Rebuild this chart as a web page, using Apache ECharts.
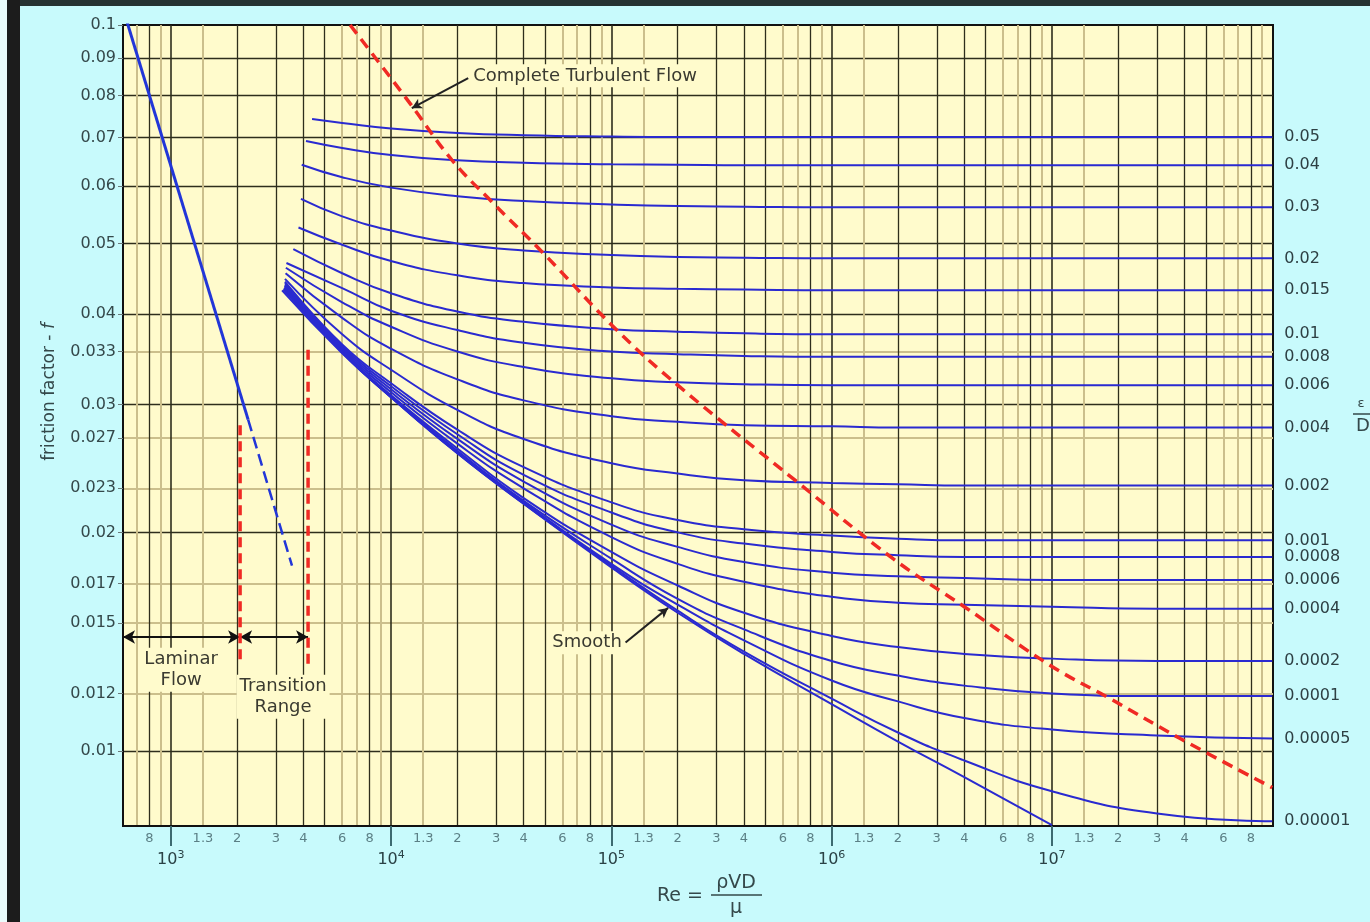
<!DOCTYPE html>
<html><head><meta charset="utf-8">
<script src="https://cdn.jsdelivr.net/npm/echarts@6/dist/echarts.min.js"></script>
<style>html,body{margin:0;padding:0;background:#c8fafc;}#c{width:1370px;height:922px;}</style>
</head><body><div id="c"></div>
<script>
// ---------- data ----------
const roughLabels = ['0.05','0.04','0.03','0.02','0.015','0.01','0.008','0.006','0.004','0.002','0.001','0.0008','0.0006','0.0004','0.0002','0.0001','0.00005','0.00001','smooth'];
const reGrid = [6e3,1e4,2e4,4e4,1e5,2e5,4e5,1e6,2e6,4e6,1e7,3e7,1e8];
const startRe = [4380,4110,3930,3900,3800,3600,3350,3330,3320,3300,3300,3300,3300,3290,3280,3270,3260,3250,3200];
const startF  = [0.0742,0.0692,0.0642,0.0576,0.0526,0.0491,0.0470,0.0463,0.0455,0.0447,0.0443,0.0441,0.0439,0.0437,0.0435,0.0434,0.0433,0.0432,0.0431];
const fE05    = [0.0733,0.0720,0.0710,0.0705,0.0702,0.0701,0.0701,0.0701,0.0701,0.0701,0.0701,0.0701,0.0701];
const fE04    = [0.0677,0.0662,0.0651,0.0646,0.0643,0.0642,0.0641,0.0641,0.0641,0.0641,0.0641,0.0641,0.0641];
const fE03    = [0.0617,0.0597,0.0581,0.0572,0.0566,0.0563,0.0562,0.0561,0.0561,0.0561,0.0561,0.0561,0.0561];
const fE02    = [0.0545,0.0521,0.0500,0.0489,0.0482,0.0479,0.0478,0.0477,0.0477,0.0477,0.0477,0.0477,0.0477];
const fE015   = [0.0498,0.0473,0.0452,0.0441,0.0435,0.0433,0.0432,0.0431,0.0431,0.0431,0.0431,0.0431,0.0431];
const fE01    = [0.0455,0.0427,0.0403,0.0390,0.0381,0.0378,0.0376,0.0375,0.0375,0.0375,0.0375,0.0375,0.0375];
const fE008   = [0.0434,0.0404,0.0380,0.0365,0.0355,0.0352,0.0350,0.0349,0.0349,0.0349,0.0349,0.0349,0.0349];
const fE006   = [0.0415,0.0384,0.0355,0.0338,0.0326,0.0322,0.0320,0.0319,0.0319,0.0319,0.0319,0.0319,0.0319];
const fE004   = [0.0395,0.0358,0.0325,0.0304,0.0289,0.0284,0.0281,0.0280,0.0279,0.0279,0.0279,0.0279,0.0279];
const fE002   = [0.0375,0.0335,0.0295,0.0269,0.0249,0.0241,0.0236,0.0234,0.0233,0.0232,0.0232,0.0232,0.0232];
const fE001   = [0.0363,0.0321,0.0277,0.0246,0.0220,0.0208,0.0202,0.0198,0.0196,0.0195,0.0195,0.0195,0.0195];
const fE0008  = [0.0361,0.0318,0.0273,0.0240,0.0213,0.0200,0.0193,0.0188,0.0186,0.0185,0.0185,0.0185,0.0185];
const fE0006  = [0.0359,0.0315,0.0269,0.0235,0.0205,0.0191,0.0182,0.0176,0.0174,0.0173,0.0172,0.0172,0.0172];
const fE0004  = [0.0357,0.0312,0.0265,0.0230,0.0197,0.0181,0.0171,0.0163,0.0160,0.0159,0.0158,0.0157,0.0157];
const fE0002  = [0.0355,0.0309,0.0261,0.0223,0.0188,0.0169,0.0155,0.0144,0.0139,0.0136,0.0134,0.0133,0.0133];
const fE0001  = [0.0354,0.0308,0.0259,0.0221,0.0184,0.0162,0.0147,0.0133,0.0127,0.0123,0.0120,0.0119,0.0119];
const fE00005 = [0.0354,0.0307,0.0258,0.0220,0.0181,0.0159,0.0142,0.0125,0.0117,0.0111,0.0107,0.0105,0.0104];
const fE00001 = [0.0354,0.0307,0.0257,0.0219,0.0180,0.0156,0.0137,0.0118,0.0106,0.0097,0.0088,0.0082,0.0080];
const fSmooth = [0.0353,0.0307,0.0257,0.0219,0.0179,0.0155,0.0136,0.0116,0.0103,0.0092,0.0079];

const ctRe = [6520,12190,18860,28640,49100,105800,205000,682000,1.9e6,4.0e6,1.0e7,1.84e7,3.82e7,1.0e8];
const ctF  = [0.100,0.0780,0.0652,0.0571,0.0485,0.0380,0.0317,0.0236,0.0184,0.0158,0.01307,0.0118,0.0104,0.0089];

const lamRe = [633,2245,3550];
const lamF  = [0.101,0.0286,0.0180];

const transRe = [2064,4200];
const transTop = [0.0281,0.0357];
const transBottom = [0.01327,0.01294];
const arrowRe = [607,2064,4200];
const arrowF = 0.01435;

const annoText = ['Laminar\nFlow','Transition\nRange','Complete Turbulent Flow','Smooth'];
const annoRe = [1114,3235,76000,77600];
const annoF  = [0.01294,0.01187,0.0851,0.01409];
const pointerFromRe = [22400,116000];
const pointerFromF  = [0.0845,0.0141];
const pointerToRe   = [12420,181000];
const pointerToF    = [0.0768,0.01574];

const yTickVals = [0.1,0.09,0.08,0.07,0.06,0.05,0.04,0.0355,0.03,0.027,0.023,0.02,0.017,0.015,0.012,0.01];
const yTickText = ['0.1','0.09','0.08','0.07','0.06','0.05','0.04','0.033','0.03','0.027','0.023','0.02','0.017','0.015','0.012','0.01'];
const yDark  = [0.09,0.08,0.07,0.06,0.05,0.04,0.03,0.02,0.01];
const yLight = [0.0355,0.027,0.023,0.017,0.015,0.012];

const xDecades = [3,4,5,6,7];
const xMant = [1.4,2,3,4,6,8];
const xMantText = ['1.3','2','3','4','6','8'];
const xGridDark = [2,3,4,5,8];
const xGridLight = [1.4,6,7,9];

// ---------- build ----------
const L = Math.log10;
const xMin = L(607), xMax = L(1.008e8), yMin = L(0.00788), yMax = -1;
const fLists = [fE05,fE04,fE03,fE02,fE015,fE01,fE008,fE006,fE004,fE002,fE001,fE0008,fE0006,fE0004,fE0002,fE0001,fE00005,fE00001,fSmooth];

const xLabVals = [800], xLabTxt = ['8'];
xDecades.forEach(d => xMant.forEach((m,i) => { xLabVals.push(m*Math.pow(10,d)); xLabTxt.push(xMantText[i]); }));
const decVals = xDecades.map(d => Math.pow(10,d));
const xDarkVals = [], xLightVals = [];
for (let d = 2; d <= 7; d++) {
  xGridDark.forEach(m => { const v = m*Math.pow(10,d); if (v > 607 && v < 1e8) xDarkVals.push(v); });
  xGridLight.forEach(m => { const v = m*Math.pow(10,d); if (v > 607 && v < 1e8) xLightVals.push(v); });
}
function lookup(vals, txt, v){ for (let i=0;i<vals.length;i++){ if (Math.abs(L(vals[i])-v)<1e-6) return txt[i]; } return ''; }

const FONT = 'DejaVu Sans';
const DARK = '#2e2e1c', LIGHT = '#cbbf8c';
function gx(extra){ return Object.assign({type:'value',min:xMin,max:xMax,position:'bottom',gridIndex:0,
  axisLine:{show:false,onZero:false},axisTick:{show:false},axisLabel:{show:false},splitLine:{show:false}}, extra); }
function gy(extra){ return Object.assign({type:'value',min:yMin,max:yMax,position:'left',gridIndex:0,
  axisLine:{show:false,onZero:false},axisTick:{show:false},axisLabel:{show:false},splitLine:{show:false}}, extra); }

const xAxis = [
  gx({axisLine:{show:true,onZero:false,lineStyle:{color:'#111',width:2}},
      axisTick:{show:false,customValues:xLabVals.map(L)},
      axisLabel:{show:true,customValues:xLabVals.map(L),margin:6,fontSize:13,color:'#5b7f85',fontFamily:FONT,
        formatter:v=>lookup(xLabVals,xLabTxt,v)}}),
  gx({axisTick:{show:true,customValues:decVals.map(L),length:20,lineStyle:{color:'#3c6a70',width:2}},
      axisLabel:{show:true,customValues:decVals.map(L),margin:24,color:'#2a4246',fontFamily:FONT,
        formatter:v=>'{b|10}{s|'+Math.round(v)+'}',
        rich:{b:{fontSize:16,lineHeight:20,fontFamily:FONT,color:'#2a4246'},
              s:{fontSize:11,lineHeight:12,verticalAlign:'top',fontFamily:FONT,color:'#2a4246'}}},
      splitLine:{show:true,lineStyle:{color:DARK,width:1.6}}}),
  gx({axisTick:{show:false,customValues:xDarkVals.map(L)},splitLine:{show:true,lineStyle:{color:DARK,width:1.3}}}),
  gx({axisTick:{show:false,customValues:xLightVals.map(L)},splitLine:{show:true,lineStyle:{color:LIGHT,width:2}}})
];
const yAxis = [
  gy({axisLine:{show:true,onZero:false,lineStyle:{color:'#111',width:2}},
      axisTick:{show:true,customValues:yTickVals.map(L),length:5,lineStyle:{color:'#6a7a7a',width:1}},
      axisLabel:{show:true,customValues:yTickVals.map(L),margin:7,fontSize:16,color:'#34484a',fontFamily:FONT,
        formatter:v=>lookup(yTickVals,yTickText,v)}}),
  gy({axisTick:{show:false,customValues:yDark.map(L)},splitLine:{show:true,lineStyle:{color:DARK,width:1.3}}}),
  gy({axisTick:{show:false,customValues:yLight.map(L)},splitLine:{show:true,lineStyle:{color:LIGHT,width:2}}})
];

const series = [];
fLists.forEach((fs, k) => {
  const d = [[L(startRe[k]), L(startF[k])]];
  fs.forEach((f,i) => d.push([L(reGrid[i]), L(f)]));
  const lbl = roughLabels[k];
  series.push({type:'line', name:lbl, data:d, showSymbol:false, smooth:0.5, silent:true, z:5,
    lineStyle:{color:'#2a2ad0', width:2},
    endLabel:{show: lbl !== 'smooth', formatter:()=>lbl, distance:12, color:'#2e4044', fontSize:16, fontFamily:FONT}});
});
// complete turbulence line
series.push({type:'line', data:ctRe.map((r,i)=>[L(r),L(ctF[i])]), showSymbol:false, smooth:0.4, silent:true, z:6,
  lineStyle:{color:'#f02a24', width:3.5, type:[11,7]}});
// laminar
series.push({type:'line', data:[[L(lamRe[0]),L(lamF[0])],[L(lamRe[1]),L(lamF[1])]], showSymbol:false, silent:true, z:6,
  lineStyle:{color:'#2236d8', width:3}});
series.push({type:'line', data:[[L(lamRe[1]),L(lamF[1])],[L(lamRe[2]),L(lamF[2])]], showSymbol:false, silent:true, z:6,
  lineStyle:{color:'#2236d8', width:2.5, type:[12,6]}});
// transition boundaries
transRe.forEach((r,i) => series.push({type:'line', data:[[L(r),L(transTop[i])],[L(r),L(transBottom[i])]], showSymbol:false, silent:true, z:6,
  lineStyle:{color:'#f02a24', width:3.5, type:[10,6]}}));
// double arrows
series.push({type:'line', data:[], silent:true, z:7,
  markLine:{silent:true, symbol:['arrow','arrow'], symbolSize:[10,12], label:{show:false}, animation:false,
    lineStyle:{color:'#111', width:2, type:'solid'},
    data:[[{coord:[L(arrowRe[0]),L(arrowF)]},{coord:[L(arrowRe[1]),L(arrowF)]}],
          [{coord:[L(arrowRe[1]),L(arrowF)]},{coord:[L(arrowRe[2]),L(arrowF)]}]]}});
// curved pointers
series.push({type:'line', data:[], silent:true, z:7,
  markLine:{silent:true, symbol:['none','arrow'], symbolSize:[8,10], label:{show:false}, animation:false,
    lineStyle:{color:'#222', width:2, type:'solid'},
    data:[[{coord:[L(pointerFromRe[0]),L(pointerFromF[0])], lineStyle:{curveness:-0.3}},{coord:[L(pointerToRe[0]),L(pointerToF[0])]}],
          [{coord:[L(pointerFromRe[1]),L(pointerFromF[1])], lineStyle:{curveness:-0.4}},{coord:[L(pointerToRe[1]),L(pointerToF[1])]}]]}});
// annotation texts
series.push({type:'line', data:[], silent:true, z:8,
  markPoint:{silent:true, symbol:'rect', symbolSize:1, itemStyle:{color:'rgba(0,0,0,0)'}, animation:false,
    label:{show:true, position:'inside', color:'#3a3a30', fontSize:18, lineHeight:21, fontFamily:FONT,
      backgroundColor:'#fffbcc', padding:[1,3]},
    data:annoText.map((t,i)=>({coord:[L(annoRe[i]),L(annoF[i])], value:t, label:{formatter:t}}))}});

const option = {
  animation:false,
  backgroundColor:'#c8fafc',
  grid:{left:123, right:97, top:25, bottom:96, show:true, backgroundColor:'#fffbcc', borderColor:'#111', borderWidth:2},
  xAxis, yAxis, series,
  graphic:[
    {type:'rect', shape:{x:0,y:0,width:7,height:922}, style:{fill:'#eafcfc'}, silent:true},
    {type:'rect', shape:{x:7,y:0,width:13,height:922}, style:{fill:'#1c1c1c'}, silent:true},
    {type:'rect', shape:{x:20,y:0,width:1350,height:6}, style:{fill:'#263232'}, silent:true},
    {type:'text', x:50, y:392, rotation:Math.PI/2, silent:true,
      style:{text:'friction factor - {i|f}', fontSize:17, fontFamily:FONT, fill:'#34484a', align:'center', verticalAlign:'middle',
        rich:{i:{fontStyle:'italic', fontSize:17, fontFamily:FONT, fill:'#34484a'}}}},
    {type:'text', x:680, y:896, silent:true, style:{text:'Re =', fontSize:19, fontFamily:FONT, fill:'#34484a', align:'center', verticalAlign:'middle'}},
    {type:'text', x:736, y:883, silent:true, style:{text:'ρVD', fontSize:19, fontFamily:FONT, fill:'#34484a', align:'center', verticalAlign:'middle'}},
    {type:'line', shape:{x1:711,y1:895,x2:762,y2:895}, style:{stroke:'#34484a', lineWidth:1.5}, silent:true},
    {type:'text', x:736, y:908, silent:true, style:{text:'μ', fontSize:19, fontFamily:FONT, fill:'#34484a', align:'center', verticalAlign:'middle'}},
    {type:'text', x:1361, y:404, silent:true, style:{text:'ε', fontSize:13, fontFamily:FONT, fill:'#34484a', align:'center', verticalAlign:'middle'}},
    {type:'line', shape:{x1:1353,y1:414,x2:1372,y2:414}, style:{stroke:'#34484a', lineWidth:1.5}, silent:true},
    {type:'text', x:1363, y:426, silent:true, style:{text:'D', fontSize:18, fontFamily:FONT, fill:'#34484a', align:'center', verticalAlign:'middle'}}
  ]
};
const chart = echarts.init(document.getElementById('c'), null, {renderer:'canvas', width:1370, height:922});
chart.setOption(option);
</script>
</body></html>
